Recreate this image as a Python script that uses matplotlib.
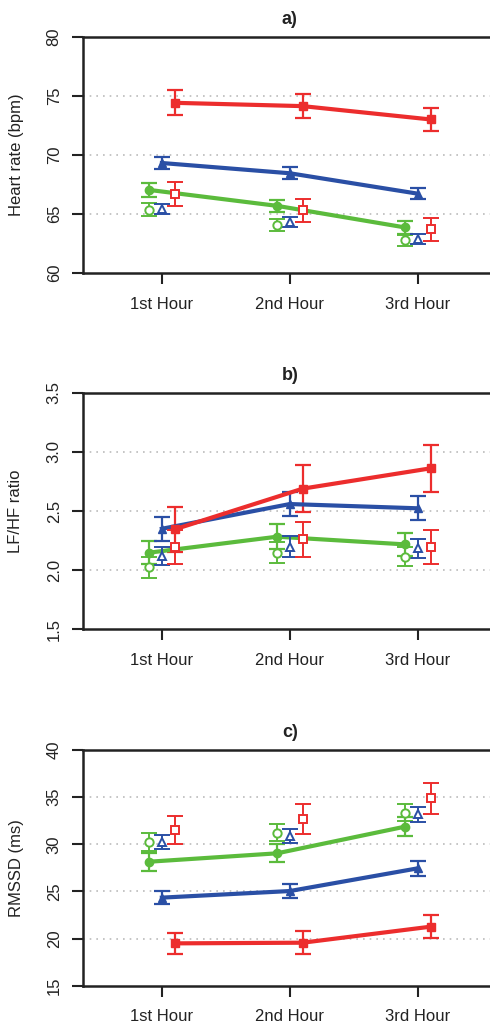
import matplotlib
matplotlib.use("Agg")
import matplotlib.pyplot as plt
import numpy as np

plt.rcParams['font.family'] = ['Liberation Sans', 'DejaVu Sans']

hours = ["1st Hour", "2nd Hour", "3rd Hour"]

# Panel a) Heart rate (bpm)
hr_red_fill = [74.42, 74.14, 73.01]; hr_red_fill_err = [1.07, 1.0, 1.0]
hr_blue_fill = [69.32, 68.45, 66.72]; hr_blue_fill_err = [0.54, 0.5, 0.48]
hr_green_fill = [67.04, 65.69, 63.86]; hr_green_fill_err = [0.6, 0.5, 0.57]
hr_red_open = [66.68, 65.3, 63.69]; hr_red_open_err = [1.0, 1.0, 0.96]
hr_blue_open = [65.41, 64.31, 62.87]; hr_blue_open_err = [0.42, 0.45, 0.42]
hr_green_open = [65.35, 64.08, 62.76]; hr_green_open_err = [0.56, 0.5, 0.5]

# Panel b) LF/HF ratio
lf_red_fill = [2.345, 2.689, 2.861]; lf_red_fill_err = [0.19, 0.2, 0.2]
lf_blue_fill = [2.35, 2.559, 2.523]; lf_blue_fill_err = [0.1, 0.1, 0.1]
lf_green_fill = [2.148, 2.283, 2.218]; lf_green_fill_err = [0.095, 0.105, 0.097]
lf_red_open = [2.196, 2.261, 2.196]; lf_red_open_err = [0.145, 0.146, 0.14]
lf_blue_open = [2.12, 2.2, 2.184]; lf_blue_open_err = [0.08, 0.09, 0.08]
lf_green_open = [2.024, 2.148, 2.114]; lf_green_open_err = [0.087, 0.09, 0.08]

# Panel c) RMSSD (ms)
rm_red_fill = [19.49, 19.56, 21.26]; rm_red_fill_err = [1.15, 1.2, 1.25]
rm_blue_fill = [24.34, 25.04, 27.45]; rm_blue_fill_err = [0.7, 0.7, 0.8]
rm_green_fill = [28.15, 29.04, 31.87]; rm_green_fill_err = [0.95, 0.94, 1.0]
rm_red_open = [31.51, 32.68, 34.87]; rm_red_open_err = [1.5, 1.55, 1.65]
rm_blue_open = [30.24, 30.91, 33.18]; rm_blue_open_err = [0.75, 0.74, 0.8]
rm_green_open = [30.2, 31.23, 33.35]; rm_green_open_err = [0.95, 0.93, 0.92]

RED = "#EC2D2D"
BLUE = "#2A4FA5"
GREEN = "#5BBB3C"

panels = [
    dict(title="a)", ylabel="Heart rate (bpm)", ylim=(60, 80), yticks=[60, 65, 70, 75, 80],
         yticklabels=["60", "65", "70", "75", "80"],
         fill=[(hr_green_fill, hr_green_fill_err), (hr_blue_fill, hr_blue_fill_err), (hr_red_fill, hr_red_fill_err)],
         open=[(hr_green_open, hr_green_open_err), (hr_blue_open, hr_blue_open_err), (hr_red_open, hr_red_open_err)],
         pos=[0.1684, 0.7334, 0.8463, 0.2305]),
    dict(title="b)", ylabel="LF/HF ratio", ylim=(1.5, 3.5), yticks=[1.5, 2.0, 2.5, 3.0, 3.5],
         yticklabels=["1.5", "2.0", "2.5", "3.0", "3.5"],
         fill=[(lf_green_fill, lf_green_fill_err), (lf_blue_fill, lf_blue_fill_err), (lf_red_fill, lf_red_fill_err)],
         open=[(lf_green_open, lf_green_open_err), (lf_blue_open, lf_blue_open_err), (lf_red_open, lf_red_open_err)],
         pos=[0.1684, 0.3854, 0.8463, 0.2311]),
    dict(title="c)", ylabel="RMSSD (ms)", ylim=(15, 40), yticks=[15, 20, 25, 30, 35, 40],
         yticklabels=["15", "20", "25", "30", "35", "40"],
         fill=[(rm_green_fill, rm_green_fill_err), (rm_blue_fill, rm_blue_fill_err), (rm_red_fill, rm_red_fill_err)],
         open=[(rm_green_open, rm_green_open_err), (rm_blue_open, rm_blue_open_err), (rm_red_open, rm_red_open_err)],
         pos=[0.1684, 0.0374, 0.8463, 0.2302]),
]

colors = [GREEN, BLUE, RED]
offsets = [-0.1, 0.0, 0.1]
fill_markers = ["o", "^", "s"]
open_markers = ["o", "^", "s"]

fig = plt.figure(figsize=(4.9, 10.24), dpi=100)
x = np.arange(1, len(hours) + 1)

for p in panels:
    ax = fig.add_axes(p["pos"])
    ax.set_xlim(0.38, 3.62)
    ax.set_ylim(*p["ylim"])
    for t in p["yticks"][1:-1]:
        ax.axhline(t, color="#BBBBBB", lw=1.2, ls=(0, (1, 3)), zorder=0)
    # filled series with lines
    for (vals, errs), c, off, m in zip(p["fill"], colors, offsets, fill_markers):
        ax.errorbar(x + off, vals, yerr=errs, color=c, lw=3, marker=m, ms=6,
                    elinewidth=1.6, capsize=6, capthick=1.6, zorder=3)
    # open series
    for (vals, errs), c, off, m in zip(p["open"], colors, offsets, open_markers):
        ax.errorbar(x + off, vals, yerr=errs, color=c, ls="none", marker=m, ms=6,
                    mfc="white", mec=c, mew=1.4, elinewidth=1.4, capsize=6, capthick=1.4, zorder=4)
    ax.set_xticks(x)
    ax.set_xticklabels(hours, fontsize=12, color="#222222")
    ax.set_yticks(p["yticks"])
    ax.set_yticklabels(p["yticklabels"], fontsize=12, rotation=90, va="center", color="#222222")
    ax.tick_params(axis="both", direction="out", length=8, width=1.5, color="#222222")
    ax.tick_params(axis="y", pad=7)
    ax.tick_params(axis="x", pad=9)
    for s in ax.spines.values():
        s.set_linewidth(1.8)
        s.set_color("#222222")
    ax.set_title(p["title"], fontsize=13, fontweight="bold", pad=9, color="#222222")
    y0 = p["pos"][1] + p["pos"][3] / 2
    fig.text(16 / 490, y0, p["ylabel"], rotation=90, ha="center", va="center",
             fontsize=12, color="#222222")

fig.savefig("out.png", dpi=100)
